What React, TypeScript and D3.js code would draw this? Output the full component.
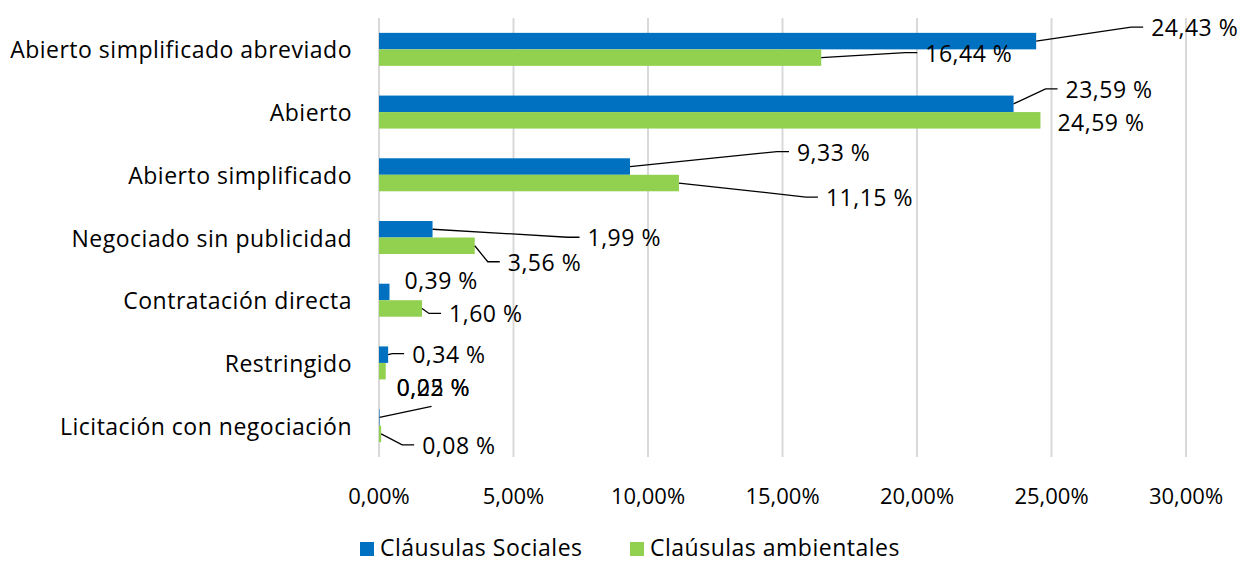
import React from "react";
import * as d3 from "d3";

const categories = [
  "Abierto simplificado abreviado",
  "Abierto",
  "Abierto simplificado",
  "Negociado sin publicidad",
  "Contratación directa",
  "Restringido",
  "Licitación con negociación",
];
const sociales = [24.43, 23.59, 9.33, 1.99, 0.39, 0.34, 0.02];
const ambientales = [16.44, 24.59, 11.15, 3.56, 1.6, 0.25, 0.08];
const xTicks = [0, 5, 10, 15, 20, 25, 30];
const seriesNames = ["Cláusulas Sociales", "Claúsulas ambientales"];

// label placement offsets (px) relative to bar end: [dx, dy, leader]
const socialLabelPos: [number, number, number][] = [
  [115, -14, 1], [52, -15, 1], [167, -15, 1], [155, 8, 1], [15, -12, 0], [24, -1, 1], [17, -30, 2],
];
const ambLabelPos: [number, number, number][] = [
  [104, -5, 1], [17, 2, 0], [147, 14, 1], [33, 16, 1], [27, 5, 1], [11, 16, 0], [41, 11, 1],
];

const BLUE = "#0070C0";
const GREEN = "#92D050";
const FONT = "'Open Sans', sans-serif";
const FS = 23;
const LS = 0.5;

function fmt(v: number) {
  return v.toFixed(2).replace(".", ",") + " %";
}

export default function App() {
  const W = 1241, H = 562;
  const x = d3.scaleLinear().domain([0, 30]).range([379, 1186]);
  const y = d3.scaleBand<string>().domain(categories).range([18, 457]);
  const barH = 16.5;

  const labels: any[] = [];
  categories.forEach((c, i) => {
    const cy = y(c)! + y.bandwidth() / 2;
    [
      { v: sociales[i], by: cy - barH / 2, pos: socialLabelPos[i] },
      { v: ambientales[i], by: cy + barH / 2, pos: ambLabelPos[i] },
    ].forEach((s, k) => {
      const bx = x(s.v);
      const tx = bx + s.pos[0];
      const ty = s.by + s.pos[1];
      let path: string | null = null;
      if (s.pos[2] === 1) {
        path = `M${bx},${s.by}L${tx - 20},${ty}L${tx - 8},${ty}`;
      } else if (s.pos[2] === 2) {
        path = `M${bx},${s.by}L${bx + 52},${s.by - 11}`;
      }
      labels.push({ key: `${i}-${k}`, tx, ty, text: fmt(s.v), path });
    });
  });

  return (
    <svg width={W} height={H} style={{ position: "absolute", left: 0, top: 0, background: "#fff" }} fontFamily={FONT}>
      {xTicks.map((t) => (
        <line key={t} x1={x(t)} x2={x(t)} y1={18} y2={457} stroke="#d9d9d9" strokeWidth={2} />
      ))}
      {xTicks.map((t) => (
        <text key={"t" + t} x={x(t)} y={495} textAnchor="middle" dominantBaseline="central" fontSize={22} fill="#000">
          {t.toFixed(2).replace(".", ",") + "%"}
        </text>
      ))}
      {categories.map((c, i) => {
        const cy = y(c)! + y.bandwidth() / 2;
        return (
          <g key={c}>
            <rect x={x(0)} y={cy - barH} width={x(sociales[i]) - x(0)} height={barH} fill={BLUE} />
            <rect x={x(0)} y={cy} width={x(ambientales[i]) - x(0)} height={barH} fill={GREEN} />
            <text x={352} y={cy} textAnchor="end" dominantBaseline="central" fontSize={FS} letterSpacing={LS} fill="#000">
              {c}
            </text>
          </g>
        );
      })}
      {labels.map((l) => (
        <g key={l.key}>
          {l.path && <path d={l.path} fill="none" stroke="#000" strokeWidth={1.3} />}
          <text x={l.tx} y={l.ty} dominantBaseline="central" fontSize={FS} letterSpacing={LS} fill="#000">
            {l.text}
          </text>
        </g>
      ))}
      <g>
        <rect x={360} y={542} width={14} height={14} fill={BLUE} />
        <text x={380} y={547} dominantBaseline="central" fontSize={FS} letterSpacing={LS}>{seriesNames[0]}</text>
        <rect x={630} y={542} width={14} height={14} fill={GREEN} />
        <text x={650} y={547} dominantBaseline="central" fontSize={FS} letterSpacing={LS}>{seriesNames[1]}</text>
      </g>
    </svg>
  );
}
